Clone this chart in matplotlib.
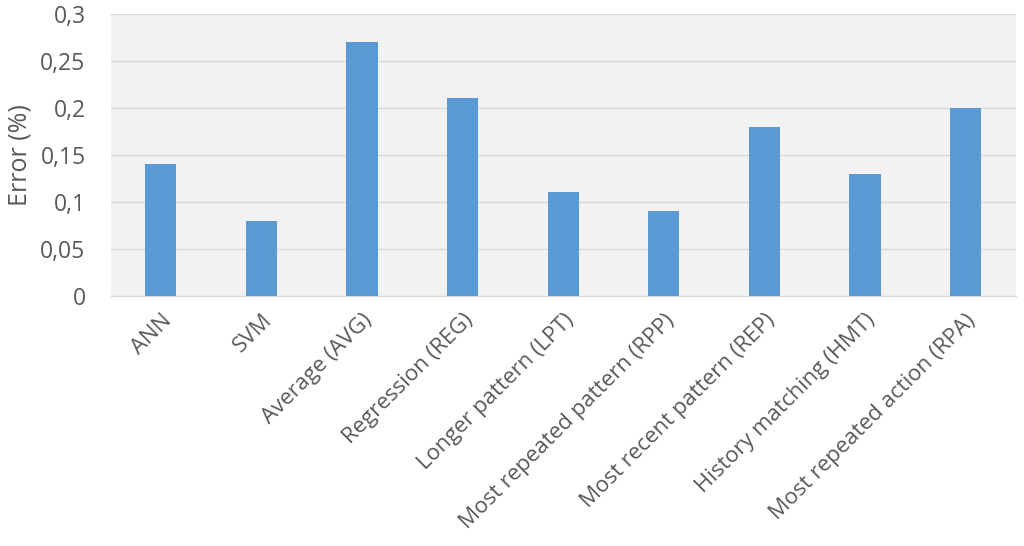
import numpy as np
import matplotlib.pyplot as plt

methods = ['ANN', 'SVM', 'Average (AVG)', 'Regression (REG)', 'Longer pattern (LPT)',
           'Most repeated pattern (RPP)', 'Most recent pattern (REP)',
           'History matching (HMT)', 'Most repeated action (RPA)']
errors = [0.14, 0.08, 0.27, 0.21, 0.11, 0.09, 0.18, 0.13, 0.20]
yticks = [0, 0.05, 0.1, 0.15, 0.2, 0.25, 0.3]
ylabels = ['0', '0,05', '0,1', '0,15', '0,2', '0,25', '0,3']

plt.rcParams['font.family'] = ['Open Sans', 'DejaVu Sans']
txt = '#595959'

fig = plt.figure(figsize=(10.24, 5.46), dpi=100)
ax = fig.add_axes([0.108, 0.458, 0.884, 0.517])
ax.set_facecolor('#f2f2f2')

x = np.arange(len(methods))
ax.bar(x, errors, width=0.31, color='#5b9bd5', zorder=3)

ax.set_xlim(-0.5, len(methods) - 0.5)
ax.set_ylim(0, 0.3)
ax.set_yticks(yticks)
ax.set_yticklabels(ylabels, fontsize=16.5, color=txt)
ax.yaxis.grid(True, color='#d9d9d9', linewidth=1, zorder=0)
ax.set_xticks(x)
ax.set_xticklabels(methods, rotation=45, ha='right', rotation_mode='anchor',
                   fontsize=16, color=txt)
ax.tick_params(axis='y', length=0, pad=18)
ax.tick_params(axis='x', length=0, pad=10)
for s in ['top', 'right', 'left']:
    ax.spines[s].set_visible(False)
ax.spines['bottom'].set_color('#d9d9d9')
ax.set_ylabel('Error (%)', fontsize=18, color=txt, labelpad=6)

fig.savefig('out.png')
